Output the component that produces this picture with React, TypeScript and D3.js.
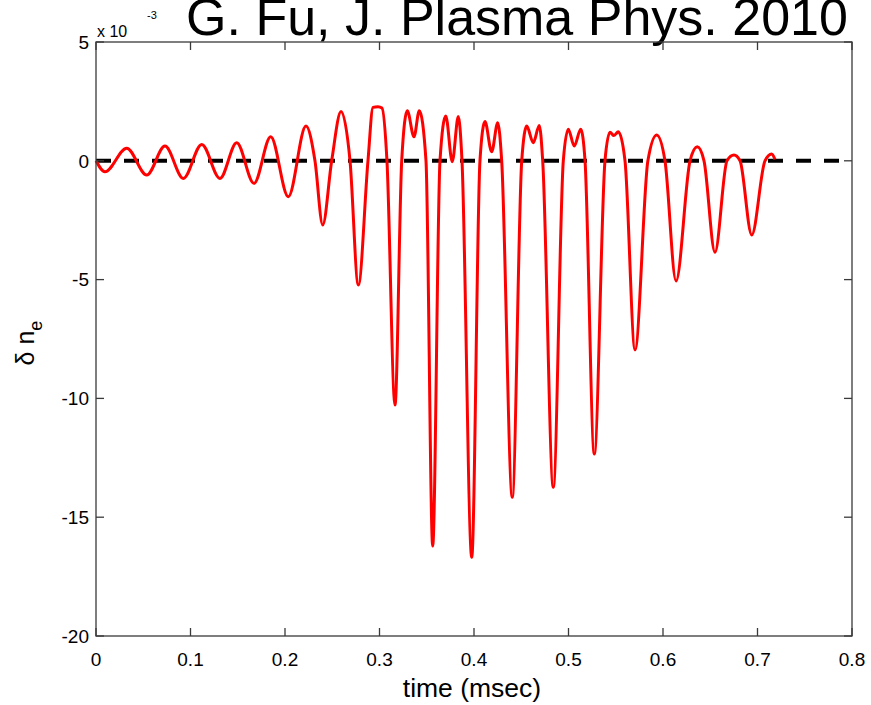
import * as React from 'react';
import * as d3 from 'd3';

// time in msec, density perturbation in units of 1e-3
const time = [
  0, 0.0095, 0.0325, 0.0537, 0.073, 0.0924, 0.1119, 0.1312, 0.1489, 0.1672,
  0.1849, 0.2035, 0.2222, 0.2317, 0.2399, 0.2494, 0.2593, 0.2688, 0.2776, 0.2878,
  0.2931, 0.2984, 0.3026, 0.3079, 0.3164, 0.3235, 0.3294, 0.3365, 0.3421, 0.3492,
  0.3563, 0.364, 0.3701, 0.377, 0.3834, 0.3873, 0.3976, 0.4063, 0.4116, 0.4187,
  0.4251, 0.4293, 0.4405, 0.4505, 0.4558, 0.4627, 0.4691, 0.4727, 0.4839, 0.4945,
  0.4998, 0.5061, 0.5129, 0.5175, 0.5273, 0.5386, 0.5439, 0.5481, 0.5527, 0.5598,
  0.5704, 0.584, 0.5933, 0.6021, 0.6138, 0.6286, 0.6363, 0.6434, 0.655, 0.6677,
  0.6751, 0.6815, 0.6939, 0.7079, 0.715, 0.7185,
];
const dne = [
  0, -0.46, 0.53, -0.6, 0.62, -0.74, 0.69, -0.74, 0.76, -0.95,
  1.01, -1.51, 1.46, 0, -2.7, 0, 2.07, 0, -5.23, 0,
  2.25, 2.28, 2.22, 0, -10.28, 0, 2.11, 1.01, 2.11, 0,
  -16.21, 0, 1.89, -0.04, 1.86, 0, -16.69, 0, 1.65, 0.38,
  1.6, 0, -14.16, 0, 1.46, 0.76, 1.49, 0, -13.74, 0,
  1.33, 0.62, 1.33, 0, -12.34, 0, 1.2, 1.06, 1.22, 0,
  -7.96, 0, 1.09, 0, -5.06, 0, 0.59, 0, -3.85, 0,
  0.24, 0, -3.12, 0, 0.29, 0.06,
];

const xTicks = [0, 0.1, 0.2, 0.3, 0.4, 0.5, 0.6, 0.7, 0.8];
const yTicks = [5, 0, -5, -10, -15, -20];

export default function App() {
  const width = 871,
    height = 705;
  const left = 96,
    right = 852,
    top = 42,
    bottom = 636;

  const x = d3.scaleLinear().domain([0, 0.8]).range([left, right]);
  const y = d3.scaleLinear().domain([-20, 5]).range([bottom, top]);

  const pts: [number, number][] = time.map((t, i) => [t, dne[i]]);
  const path = d3
    .line<[number, number]>()
    .x(d => x(d[0]))
    .y(d => y(d[1]))
    .curve(d3.curveMonotoneX)(pts);

  const font = '"Liberation Sans", Arial, Helvetica, sans-serif';
  const axisColor = '#3a3a3a';
  const tickLen = 8;

  return (
    <svg
      width={width}
      height={height}
      style={{ position: 'absolute', left: 0, top: 0, background: '#fff' }}
      fontFamily={font}
    >
      <rect x={0} y={0} width={width} height={height} fill="#fff" />

      {/* title, cut at the top edge as in the original slide */}
      <text x={517} y={35} fontSize={52} textAnchor="middle" fill="#000">
        G. Fu, J. Plasma Phys. 2010
      </text>

      {/* zero reference */}
      <line
        x1={x(0)}
        x2={x(0.8)}
        y1={y(0)}
        y2={y(0)}
        stroke="#000"
        strokeWidth={4}
        strokeDasharray="15 13"
      />

      {/* signal */}
      <path d={path || ''} fill="none" stroke="#f00" strokeWidth={3} strokeLinejoin="round" />

      {/* axes box */}
      <rect
        x={left}
        y={top}
        width={right - left}
        height={bottom - top}
        fill="none"
        stroke={axisColor}
        strokeWidth={1.3}
      />

      {xTicks.map(t => (
        <g key={'x' + t}>
          <line x1={x(t)} x2={x(t)} y1={bottom} y2={bottom - tickLen} stroke={axisColor} strokeWidth={1.3} />
          <line x1={x(t)} x2={x(t)} y1={top} y2={top + tickLen} stroke={axisColor} strokeWidth={1.3} />
          <text x={x(t)} y={666} fontSize={19} textAnchor="middle" fill="#000">
            {t === 0 ? '0' : d3.format('.1f')(t)}
          </text>
        </g>
      ))}

      {yTicks.map(v => (
        <g key={'y' + v}>
          <line x1={left} x2={left + tickLen} y1={y(v)} y2={y(v)} stroke={axisColor} strokeWidth={1.3} />
          <line x1={right} x2={right - tickLen} y1={y(v)} y2={y(v)} stroke={axisColor} strokeWidth={1.3} />
          <text x={89} y={y(v)} dy="0.36em" fontSize={19} textAnchor="end" fill="#000">
            {v}
          </text>
        </g>
      ))}

      {/* exponent */}
      <text x={97} y={37} fontSize={16} fill="#000">
        x 10
      </text>
      <text x={147} y={19} fontSize={11} fill="#000">
        -3
      </text>

      <text x={472} y={697} fontSize={26.5} textAnchor="middle" fill="#000">
        time (msec)
      </text>

      <text transform="translate(34,343) rotate(-90)" fontSize={25} textAnchor="middle" fill="#000">
        δ n
        <tspan fontSize={18} dy={8}>
          e
        </tspan>
      </text>
    </svg>
  );
}
